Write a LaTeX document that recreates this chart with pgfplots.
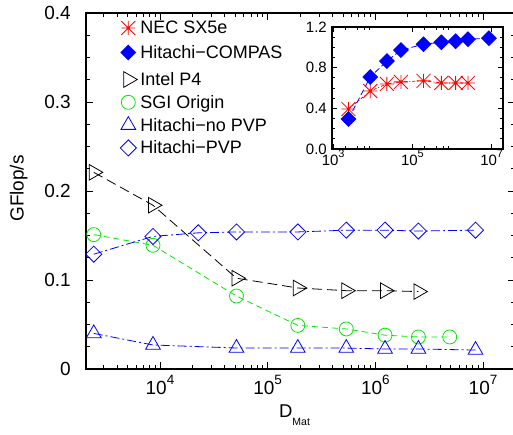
\documentclass[border=0pt]{standalone}
\usepackage{fontspec}
\setmainfont{Liberation Sans}
\usepackage{pgfplots}
\pgfplotsset{compat=1.18}
\usetikzlibrary{plotmarks}

\definecolor{gpgreen}{RGB}{0,235,0}
\definecolor{gpblue}{RGB}{0,0,255}
\definecolor{gpred}{RGB}{255,0,0}

% gnuplot style star: + and x together
\pgfdeclareplotmark{gpstar}{%
  \pgfpathmoveto{\pgfqpoint{-\pgfplotmarksize}{0pt}}\pgfpathlineto{\pgfqpoint{\pgfplotmarksize}{0pt}}%
  \pgfpathmoveto{\pgfqpoint{0pt}{-\pgfplotmarksize}}\pgfpathlineto{\pgfqpoint{0pt}{\pgfplotmarksize}}%
  \pgfpathmoveto{\pgfqpoint{-\pgfplotmarksize}{-\pgfplotmarksize}}\pgfpathlineto{\pgfqpoint{\pgfplotmarksize}{\pgfplotmarksize}}%
  \pgfpathmoveto{\pgfqpoint{-\pgfplotmarksize}{\pgfplotmarksize}}\pgfpathlineto{\pgfqpoint{\pgfplotmarksize}{-\pgfplotmarksize}}%
  \pgfusepathqstroke}

\newcommand\tp[1]{10\raisebox{10pt}{\fontsize{13.5}{14}\selectfont #1}}
\newcommand\tpi[1]{10\raisebox{8pt}{\fontsize{11}{12}\selectfont #1}}

\pgfplotsset{
  gpleg/.style={
    legend cell align=left,
    legend style={draw=none, fill=none, inner sep=0pt, outer sep=0pt,
      row sep=#1, column sep=4pt, font=\fontsize{18}{18}\selectfont,
      nodes={inner sep=0pt, text height=12pt, text depth=0pt}},
  },
  gpaxis/.style={
    scale only axis, tick align=inside,
    axis line style={line width=1.2pt},
    every tick/.style={black, line width=0.9pt},
    clip=false
  }
}

% legend marker only, in a fixed 16pt x 12pt cell
% #1 colour, #2 mark, #3 size, #4 rotation, #5 filled (y/n)
\newcommand\legmark[5]{%
  \addlegendimage{legend image code/.code={%
    \pgfinterruptboundingbox
    \begin{scope}[#1, line width=0.8pt, solid, rotate=#4]
      \ifx#5y\pgfsetfillcolor{#1}\fi
      \pgfsetplotmarksize{#3}%
      \pgfuseplotmark{#2}%
    \end{scope}%
    \endpgfinterruptboundingbox
    \pgfpathrectangle{\pgfqpoint{-8pt}{-6pt}}{\pgfqpoint{16pt}{12pt}}%
    \pgfusepath{discard}}}}

\begin{document}
\begin{tikzpicture}
\begin{axis}[xmode=log, gpaxis, gpleg=10.8pt,
  at={(0pt,0pt)}, anchor=south west,
  width=429pt, height=356pt,
  xmin=2056, xmax=1.98e7, ymin=0, ymax=0.4,
  xtick={1e4,1e5,1e6,1e7}, xticklabels={\tp{4},\tp{5},\tp{6},\tp{7}},
  minor xtick={3e3,4e3,5e3,6e3,7e3,8e3,9e3,
    2e4,3e4,4e4,5e4,6e4,7e4,8e4,9e4,
    2e5,3e5,4e5,5e5,6e5,7e5,8e5,9e5,
    2e6,3e6,4e6,5e6,6e6,7e6,8e6,9e6},
  ytick={0,0.1,0.2,0.3,0.4}, yticklabels={0,0.1,0.2,0.3,0.4},
  minor y tick num=3,
  major tick length=7pt, minor tick length=4pt,
  xticklabel style={anchor=north, inner sep=0pt, yshift=-6pt, font=\fontsize{19}{19}\selectfont},
  yticklabel style={anchor=east, inner sep=0pt, xshift=-15pt, font=\fontsize{19}{19}\selectfont},
  xlabel={D\raisebox{-8pt}{\fontsize{10.5}{11}\selectfont Mat}},
  xlabel style={at={(axis description cs:0.486,-0.136)}, anchor=base, inner sep=0pt,
    font=\fontsize{18.5}{19}\selectfont},
  ylabel={GFlop/s},
  ylabel style={at={(axis description cs:-0.157,0.507)}, anchor=center, rotate=0,
    inner sep=0pt, font=\fontsize{19}{19}\selectfont},
  legend style={at={(0.080,0.830)}, anchor=north west},
]
\legmark{black}{triangle}{9pt}{-90}{n}
\addlegendentry{Intel P4}
\legmark{gpgreen}{o}{7pt}{0}{n}
\addlegendentry{SGI Origin}
\legmark{gpblue}{triangle}{8.5pt}{0}{n}
\addlegendentry{Hitachi−no PVP}
\legmark{gpblue}{square}{5.7pt}{45}{n}
\addlegendentry{Hitachi−PVP}

\addplot[forget plot, black, line width=0.8pt, dash pattern=on 10pt off 5pt,
  mark=triangle, mark size=9pt, mark options={solid, rotate=-90}]
  coordinates {(2427,0.221) (8610,0.184) (51300,0.102) (190500,0.091)
    (537000,0.088) (1.23e6,0.088) (2.51e6,0.087)};
\addplot[forget plot, gpgreen, line width=0.8pt, dash pattern=on 6pt off 4pt,
  mark=o, mark size=7pt, mark options={solid}]
  coordinates {(2427,0.151) (8610,0.139) (51300,0.082) (190500,0.049)
    (537000,0.045) (1.23e6,0.038) (2.51e6,0.036) (4.9e6,0.036)};
\addplot[forget plot, gpblue, line width=0.8pt, dash pattern=on 9pt off 3pt on 2pt off 3pt,
  mark=triangle, mark size=8.5pt, mark options={solid}]
  coordinates {(2427,0.040) (8610,0.027) (51300,0.0236) (190500,0.0235)
    (537000,0.0235) (1.23e6,0.0225) (2.51e6,0.0225) (8.51e6,0.0213)};
\addplot[forget plot, gpblue, line width=0.8pt, dash pattern=on 9pt off 3pt on 2pt off 3pt,
  mark=square, mark size=5.7pt, mark options={solid, rotate=45}]
  coordinates {(2427,0.129) (8610,0.149) (22650,0.153) (51300,0.154)
    (190500,0.154) (537000,0.156) (1.23e6,0.156) (2.51e6,0.155) (8.51e6,0.156)};
\end{axis}

\begin{axis}[xmode=log, gpaxis, gpleg=12.5pt,
  at={(246pt,220pt)}, anchor=south west,
  width=171pt, height=122pt,
  xmin=933, xmax=1.93e7, ymin=0, ymax=1.2,
  axis background/.style={fill=white},
  xtick={1e3,1e5,1e7}, xticklabels={\tpi{3},\tpi{5},\tpi{7}},
  minor xtick={2e3,4e3,6e3,8e3,2e5,4e5,6e5,8e5},
  ytick={0,0.4,0.8,1.2}, yticklabels={0.0,0.4,0.8,1.2},
  minor y tick num=3,
  major tick length=5pt, minor tick length=3pt,
  xticklabel style={anchor=north, inner sep=0pt, yshift=-1pt, font=\fontsize{15}{15}\selectfont},
  yticklabel style={anchor=east, inner sep=0pt, xshift=-5pt, font=\fontsize{15}{15}\selectfont},
  legend style={at={(-1.238,1.041)}, anchor=north west},
]
\legmark{gpred}{gpstar}{7pt}{0}{n}
\addlegendentry{NEC SX5e}
\legmark{gpblue}{square*}{5.2pt}{45}{y}
\addlegendentry{Hitachi−COMPAS}

\addplot[forget plot, gpred, line width=0.8pt, dash pattern=on 3pt off 2pt on 1pt off 2pt,
  mark=gpstar, mark size=7pt, mark options={solid}]
  coordinates {(2427,0.393) (8610,0.570) (22650,0.640) (51300,0.660)
    (190500,0.670) (537000,0.650) (1.23e6,0.650) (2.51e6,0.650)};
\addplot[forget plot, gpblue, line width=0.8pt, dash pattern=on 6pt off 3pt,
  mark=square*, mark size=5.2pt, mark options={solid, rotate=45}]
  coordinates {(2427,0.295) (8610,0.708) (22650,0.865) (51300,0.973)
    (190500,1.03) (537000,1.05) (1.23e6,1.06) (2.51e6,1.08) (8.51e6,1.09)};
\end{axis}

\pgfresetboundingbox
\path (-86pt,-65pt) rectangle (427pt,369pt);
\end{tikzpicture}
\end{document}
